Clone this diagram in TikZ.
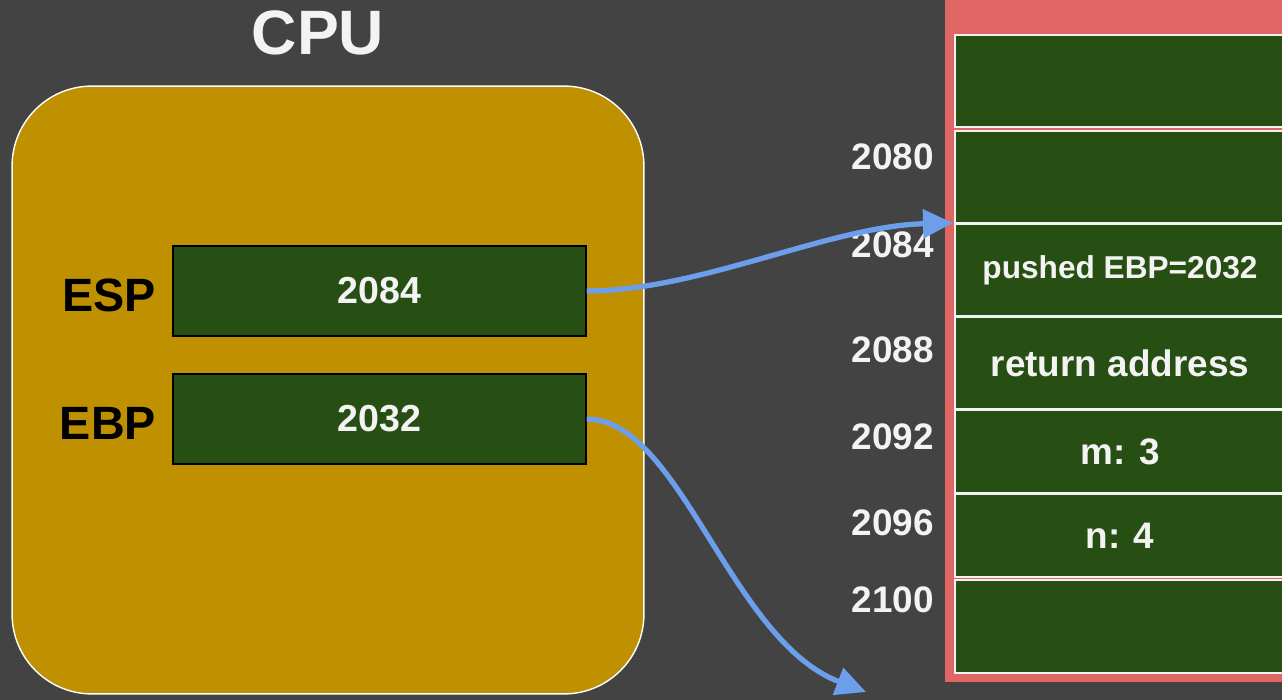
\documentclass[tikz,border=0pt]{standalone}
\usepackage{fontspec}
\setmainfont{Liberation Sans}
\usetikzlibrary{positioning,arrows.meta}
\definecolor{bgdark}{HTML}{434343}
\definecolor{cpugold}{HTML}{BF9000}
\definecolor{regreen}{HTML}{274E13}
\definecolor{stackred}{HTML}{E06666}
\definecolor{ptrblue}{HTML}{6D9EEB}
\definecolor{lightwhite}{HTML}{F3F3F3}
\tikzset{
	reg/.style={draw=black, line width=0.8pt, fill=regreen, minimum width=8.26cm, minimum height=1.8cm, inner sep=0pt, text=lightwhite, font=\bfseries\fontsize{21.4}{24}\selectfont},
	reglabel/.style={inner sep=0pt, text=black, font=\bfseries\fontsize{26.6}{30}\selectfont},
	cell/.style={draw=lightwhite, line width=1.1pt, fill=regreen, minimum width=6.6cm, inner sep=0pt, text=lightwhite, font=\bfseries\fontsize{21}{24}\selectfont},
	addr/.style={anchor=east, inner sep=0pt, text=lightwhite, font=\bfseries\fontsize{21}{24}\selectfont},
	pointer/.style={ptrblue, line width=3pt, -{Triangle[length=0.6cm,width=0.56cm]}},
}
\begin{document}
\begin{tikzpicture}[x=0.02cm, y=-0.02cm]
	\fill[bgdark] (0,0) rectangle (1282,700);
	\useasboundingbox (0,0) rectangle (1282,700);
	\node[inner sep=0pt, text=lightwhite, font=\bfseries\fontsize{35.7}{40}\selectfont] (cputitle) at (318,33) {CPU};
	\node[draw=white, line width=0.8pt, fill=cpugold, rounded corners=1.6cm, minimum width=12.64cm, minimum height=12.16cm] (cpu) at (328,390) {};
	\node[reg] (esp) at (379.5,291) {2084};
	\node[reg] (ebp) at (379.5,419) {2032};
	\node[reglabel, left=0.32cm of esp, yshift=-0.08cm] (esplabel) {ESP};
	\node[reglabel, left=0.32cm of ebp, yshift=-0.08cm] (ebplabel) {EBP};
	\fill[stackred] (945,-10) rectangle (1300,682);
	\foreach \name/\y/\h/\txt in {slot1/81/1.84/{}, slot2/177/1.84/{}, slot3/270/1.84/{\fontsize{18}{20}\selectfont pushed EBP=2032}, slot4/363/1.84/return address, slot5/451.5/1.66/m: 3, slot6/535.5/1.66/n: 4, slot7/626.5/1.86/{}}
		\node[cell, minimum height=\h cm] (\name) at (1120,\y) {\txt};
	\foreach \a/\y in {2080/157, 2084/245, 2088/350, 2092/436.5, 2096/522.5, 2100/600}
		\node[addr] (addr\a) at (934,\y) {\a};
	\coordinate (esptip) at (953,223);
	\coordinate (ebptip) at (866,692);
	\draw[pointer] (esp.east) .. controls (700,291) and (830,226) .. (esptip);
	\draw[pointer] (ebp.east) .. controls (680,419) and (730,640) .. (ebptip);
\end{tikzpicture}
\end{document}
